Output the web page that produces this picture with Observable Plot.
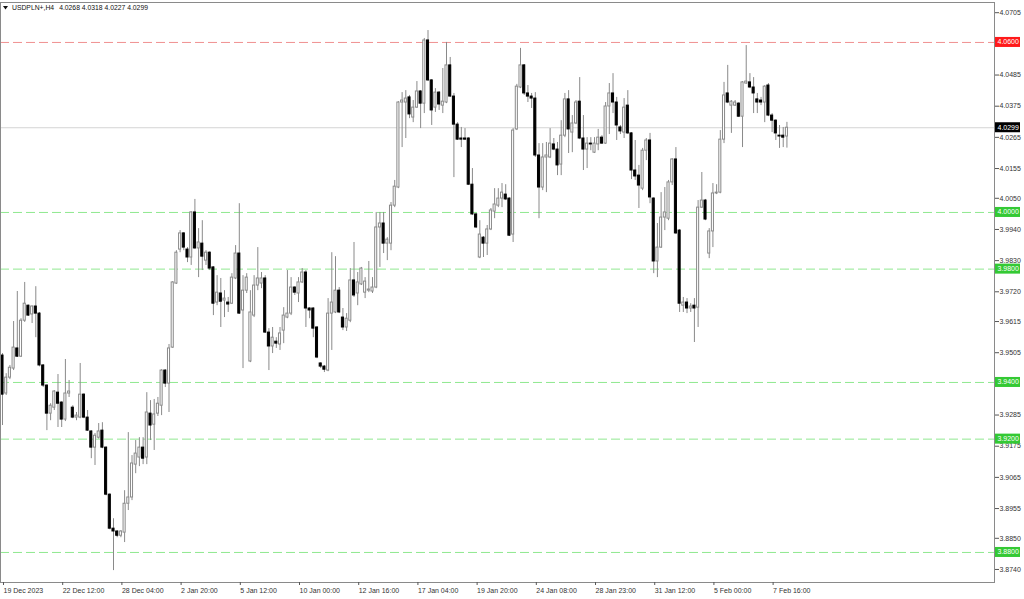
<!DOCTYPE html>
<html><head><meta charset="utf-8">
<script src="https://cdn.jsdelivr.net/npm/d3@7"></script>
<script src="https://cdn.jsdelivr.net/npm/@observablehq/plot@0.6"></script>
<style>html,body{margin:0;padding:0;background:#fff;} #chart svg{display:block}</style>
</head><body><div id="chart"></div>
<script>
const symbol = "USDPLN+,H4";

const open = [
3.9495,3.9361,3.9417,3.9449,3.9520,3.9491,3.9618,3.9671,3.9640,3.9668,
3.9643,3.9460,3.9389,3.9290,3.9311,3.9364,3.9329,3.9269,3.9361,3.9311,
3.9276,3.9276,3.9357,3.9276,3.9227,3.9170,3.9205,3.9230,3.9170,3.9004,
3.8884,3.8874,3.8859,3.8870,3.8972,3.8994,3.9110,3.9135,3.9170,3.9135,
3.9290,3.9251,3.9290,3.9318,3.9442,3.9396,3.9523,3.9749,3.9869,3.9926,
3.9869,3.9841,4.0000,3.9873,3.9890,3.9830,3.9858,3.9806,3.9682,3.9714,
3.9689,3.9682,3.9678,3.9767,3.9855,3.9654,3.9724,3.9474,3.9636,3.9742,
3.9749,3.9767,3.9576,3.9527,3.9544,3.9534,3.9583,3.9629,3.9643,3.9735,
3.9714,3.9753,3.9788,3.9661,3.9661,3.9594,3.9467,3.9456,3.9442,3.9643,
3.9647,3.9724,3.9629,3.9594,3.9618,3.9760,3.9714,3.9746,3.9717,3.9724,
3.9721,3.9735,3.9947,3.9961,3.9890,3.9890,4.0024,4.0088,4.0388,4.0388,
4.0406,4.0335,4.0370,4.0427,4.0384,4.0607,4.0466,4.0370,4.0423,4.0377,
4.0388,4.0519,4.0409,4.0310,4.0261,4.0261,4.0261,4.0098,3.9993,3.9841,
3.9911,3.9890,3.9940,4.0003,4.0024,4.0049,4.0063,4.0049,3.9922,4.0293,
4.0441,4.0519,4.0420,4.0409,4.0402,4.0201,4.0088,4.0194,4.0194,4.0240,
4.0222,4.0169,4.0271,4.0399,4.0282,4.0314,4.0391,4.0261,4.0222,4.0243,
4.0211,4.0240,4.0264,4.0243,4.0374,4.0420,4.0388,4.0300,4.0282,4.0377,
4.0279,4.0148,4.0130,4.0084,4.0218,4.0254,4.0049,3.9827,3.9876,3.9982,
3.9978,4.0106,4.0187,3.9936,3.9671,3.9682,3.9661,3.9671,3.9664,4.0017,
4.0042,3.9855,3.9933,4.0067,4.0070,4.0257,4.0420,4.0377,4.0377,4.0384,
4.0338,4.0455,4.0459,4.0441,4.0399,4.0395,4.0388,4.0448,4.0342,4.0324,
4.0271,4.0271,4.0268
];
const high = [
3.9502,3.9431,3.9460,3.9615,3.9721,3.9625,3.9753,3.9673,3.9670,3.9738,
3.9647,3.9463,3.9392,3.9325,3.9371,3.9428,3.9332,3.9481,3.9407,3.9318,
3.9294,3.9467,3.9360,3.9301,3.9230,3.9220,3.9255,3.9258,3.9173,3.9007,
3.8919,3.8877,3.8877,3.9018,3.9223,3.9142,3.9195,3.9205,3.9205,3.9364,
3.9336,3.9340,3.9347,3.9445,3.9445,3.9534,3.9756,3.9865,3.9936,3.9929,
3.9876,4.0003,4.0046,3.9943,3.9971,3.9865,3.9861,3.9809,3.9777,3.9767,
3.9724,3.9700,3.9784,3.9883,4.0031,3.9777,3.9784,3.9724,3.9777,3.9876,
3.9788,3.9777,3.9590,3.9594,3.9558,3.9594,3.9664,3.9795,3.9770,3.9738,
3.9770,3.9802,3.9795,3.9664,3.9664,3.9597,3.9470,3.9460,3.9696,3.9858,
3.9844,3.9735,3.9661,3.9643,3.9802,3.9894,3.9788,3.9806,3.9770,3.9827,
3.9770,4.0000,4.0000,4.0000,3.9911,4.0035,4.0113,4.0391,4.0423,4.0430,
4.0413,4.0395,4.0462,4.0430,4.0614,4.0642,4.0469,4.0437,4.0427,4.0508,
4.0600,4.0547,4.0420,4.0317,4.0300,4.0296,4.0264,4.0155,3.9996,3.9971,
3.9915,3.9954,4.0014,4.0084,4.0084,4.0102,4.0098,4.0052,4.0296,4.0452,
4.0579,4.0522,4.0448,4.0420,4.0423,4.0243,4.0243,4.0247,4.0296,4.0261,
4.0247,4.0324,4.0420,4.0430,4.0342,4.0395,4.0476,4.0342,4.0264,4.0264,
4.0264,4.0293,4.0271,4.0388,4.0455,4.0490,4.0406,4.0307,4.0402,4.0430,
4.0282,4.0254,4.0166,4.0226,4.0261,4.0279,4.0052,3.9961,4.0070,4.0088,
4.0113,4.0190,4.0229,3.9940,3.9700,3.9696,3.9678,3.9696,4.0042,4.0141,
4.0046,3.9943,4.0102,4.0098,4.0289,4.0459,4.0519,4.0395,4.0395,4.0388,
4.0462,4.0589,4.0490,4.0476,4.0420,4.0406,4.0448,4.0455,4.0349,4.0327,
4.0307,4.0300,4.0318
];
const low = [
3.9248,3.9354,3.9410,3.9442,3.9488,3.9488,3.9612,3.9633,3.9608,3.9558,
3.9455,3.9382,3.9230,3.9265,3.9301,3.9241,3.9241,3.9262,3.9347,3.9272,
3.9265,3.9272,3.9272,3.9227,3.9131,3.9107,3.9200,3.9166,3.9000,3.8880,
3.8736,3.8852,3.8852,3.8835,3.8948,3.8983,3.9078,3.9103,3.9110,3.9110,
3.9195,3.9160,3.9280,3.9283,3.9382,3.9294,3.9520,3.9746,3.9858,3.9865,
3.9823,3.9813,3.9870,3.9770,3.9795,3.9813,3.9795,3.9636,3.9671,3.9594,
3.9629,3.9647,3.9675,3.9763,3.9640,3.9449,3.9714,3.9470,3.9629,3.9724,
3.9731,3.9573,3.9442,3.9502,3.9520,3.9513,3.9537,3.9625,3.9636,3.9707,
3.9682,3.9749,3.9594,3.9625,3.9558,3.9484,3.9449,3.9435,3.9438,3.9513,
3.9643,3.9643,3.9583,3.9580,3.9611,3.9700,3.9671,3.9742,3.9696,3.9717,
3.9714,3.9731,3.9806,3.9855,3.9830,3.9865,4.0017,4.0084,4.0229,4.0261,
4.0331,4.0317,4.0367,4.0296,4.0349,4.0462,4.0307,4.0353,4.0360,4.0349,
4.0384,4.0406,4.0123,4.0254,4.0229,4.0254,4.0095,3.9989,3.9943,3.9837,
3.9841,3.9848,3.9936,3.9978,4.0017,4.0017,4.0042,3.9915,3.9894,4.0289,
4.0437,4.0413,4.0388,4.0367,4.0194,3.9978,4.0077,4.0070,4.0190,4.0218,
4.0130,4.0130,4.0264,4.0208,4.0211,4.0310,4.0257,4.0148,4.0155,4.0218,
4.0208,4.0218,4.0240,4.0240,4.0275,4.0349,4.0254,4.0275,4.0261,4.0275,
4.0116,4.0113,4.0014,4.0077,4.0183,4.0031,3.9784,3.9770,3.9873,3.9936,
3.9971,4.0095,3.9922,3.9647,3.9647,3.9643,3.9647,3.9541,3.9594,4.0014,
3.9971,3.9837,3.9876,4.0063,4.0066,4.0243,4.0384,4.0279,4.0374,4.0335,
4.0229,4.0452,4.0437,4.0349,4.0349,4.0377,4.0317,4.0338,4.0282,4.0254,
4.0226,4.0229,4.0227
];
const close = [
3.9357,3.9417,3.9452,3.9523,3.9491,3.9618,3.9678,3.9636,3.9668,3.9643,
3.9460,3.9389,3.9290,3.9318,3.9368,3.9325,3.9269,3.9361,3.9368,3.9276,
3.9283,3.9357,3.9276,3.9230,3.9170,3.9212,3.9227,3.9170,3.9004,3.8884,
3.8874,3.8859,3.8874,3.8972,3.8994,3.9114,3.9149,3.9170,3.9131,3.9294,
3.9248,3.9287,3.9325,3.9442,3.9396,3.9520,3.9753,3.9858,3.9926,3.9876,
3.9841,4.0000,3.9873,3.9894,3.9844,3.9858,3.9802,3.9678,3.9717,3.9685,
3.9696,3.9675,3.9770,3.9855,3.9643,3.9724,3.9770,3.9647,3.9742,3.9767,
3.9767,3.9576,3.9527,3.9558,3.9537,3.9573,3.9636,3.9643,3.9735,3.9717,
3.9753,3.9788,3.9661,3.9654,3.9590,3.9488,3.9456,3.9445,3.9643,3.9682,
3.9724,3.9647,3.9594,3.9625,3.9760,3.9707,3.9753,3.9802,3.9756,3.9728,
3.9735,3.9947,3.9961,3.9890,3.9904,4.0024,4.0091,4.0388,4.0395,4.0402,
4.0346,4.0370,4.0427,4.0384,4.0607,4.0466,4.0360,4.0423,4.0381,4.0391,
4.0519,4.0409,4.0310,4.0257,4.0257,4.0257,4.0098,3.9993,3.9947,3.9922,
3.9890,3.9940,4.0007,4.0028,4.0049,4.0070,4.0046,3.9918,4.0289,4.0444,
4.0519,4.0420,4.0409,4.0402,4.0201,4.0088,4.0194,4.0201,4.0243,4.0222,
4.0166,4.0271,4.0399,4.0293,4.0314,4.0388,4.0261,4.0222,4.0243,4.0240,
4.0243,4.0264,4.0243,4.0374,4.0420,4.0388,4.0307,4.0286,4.0370,4.0279,
4.0148,4.0127,4.0095,4.0218,4.0254,4.0053,3.9827,3.9876,3.9982,4.0000,
4.0106,4.0187,3.9926,3.9678,3.9682,3.9661,3.9668,3.9661,4.0017,4.0042,
3.9975,3.9933,4.0067,4.0070,4.0257,4.0413,4.0388,4.0391,4.0388,4.0338,
4.0459,4.0462,4.0441,4.0420,4.0388,4.0388,4.0444,4.0342,4.0324,4.0279,
4.0268,4.0264,4.0299
];

const dateTickIndex = [0,16,32,48,64,80,96,112,128,144,160,176,192,208];
const dateTickLabels = ["19 Dec 2023","22 Dec 12:00","28 Dec 04:00","2 Jan 20:00","5 Jan 12:00","10 Jan 00:00","12 Jan 16:00","17 Jan 04:00","19 Jan 20:00","24 Jan 08:00","28 Jan 23:00","31 Jan 12:00","5 Feb 00:00","7 Feb 16:00"];
const priceTicks = [4.0705,4.0485,4.0375,4.0265,4.0155,4.0050,3.9940,3.9830,3.9720,3.9615,3.9505,3.9285,3.9175,3.9065,3.8955,3.8850,3.8740];
const resistanceLevels = [4.0600];
const supportLevels = [4.0000,3.9800,3.9400,3.9200,3.8800];

const n = Math.min(open.length, high.length, low.length, close.length);
const candles = d3.range(n).map(i => ({i, o: open[i], h: high[i], l: low[i], c: close[i], up: close[i] >= open[i]}));
const last = candles[n - 1];

const FONT = "'Liberation Sans', Arial, sans-serif";
const half = 0.28;

const plot = Plot.plot({
  width: 1024, height: 599,
  marginTop: 2, marginBottom: 17, marginLeft: 0, marginRight: 30,
  x: {type: "linear", domain: [-0.54, 268.1], label: null},
  y: {type: "linear", domain: [3.8694, 4.0741], label: null},
  style: {fontFamily: FONT, fontSize: "7px", color: "#222", background: "#fff", overflow: "visible"},
  marks: [
    Plot.ruleY(supportLevels, {y: d => d, stroke: "#90e890", strokeDasharray: "9,4"}),
    Plot.ruleY(resistanceLevels, {y: d => d, stroke: "#f09090", strokeDasharray: "9,4"}),
    Plot.ruleY([last.c], {y: d => d, stroke: "#d4d4d4"}),
    Plot.ruleX(candles, {x: "i", y1: "l", y2: "h", stroke: "#8a8a8a", strokeWidth: 1}),
    Plot.rect(candles.filter(d => d.up), {x1: d => d.i - half, x2: d => d.i + half, y1: "o", y2: "c", fill: "#fff", stroke: "#8a8a8a", strokeWidth: 1}),
    Plot.rect(candles.filter(d => !d.up), {x1: d => d.i - half, x2: d => d.i + half, y1: "o", y2: "c", fill: "#000", stroke: "#000", strokeWidth: 1}),
    Plot.frame({stroke: "#8a8a8a"}),
    Plot.axisY(priceTicks, {anchor: "right", tickSize: 4, tickPadding: 1, tickFormat: d => d.toFixed(4), stroke: "#555", fill: "#333", label: null}),
    Plot.axisX(dateTickIndex, {anchor: "bottom", tickSize: 3, tickPadding: 3, textAnchor: "start", dx: 1, stroke: "#555", fill: "#333", tickFormat: d => dateTickLabels[dateTickIndex.indexOf(d)], label: null})
  ]
});

document.getElementById("chart").appendChild(plot);

const svg = d3.select(plot);
const ys = plot.scale("y");
const xs = plot.scale("x");
const axisX0 = xs.range[1] + 1;
const g = svg.append("g").attr("font-family", FONT).attr("font-size", 7).attr("text-anchor", "start");

function tag(v, color) {
  const yy = ys.apply(v);
  g.append("rect").attr("x", axisX0).attr("y", yy - 5).attr("width", 25).attr("height", 10).attr("fill", color);
  g.append("text").attr("x", axisX0 + 2.5).attr("y", yy).attr("dy", "0.35em").attr("fill", "#fff").text(v.toFixed(4));
}
resistanceLevels.forEach(v => tag(v, "#ff1a1a"));
supportLevels.forEach(v => tag(v, "#34c934"));
tag(last.c, "#000");

// header
const hdr = svg.append("g").attr("font-family", FONT).attr("font-size", 6.8).attr("fill", "#111").attr("text-anchor", "start");
hdr.append("path").attr("d", "M3,6 L8,6 L5.5,9.5 Z").attr("fill", "#111");
const ht = hdr.append("text").attr("x", 12).attr("y", 8).attr("dy", "0.35em");
ht.append("tspan").text(symbol);
ht.append("tspan").attr("dx", 5).text([last.o, last.h, last.l, last.c].map(v => v.toFixed(4)).join(" "));
</script>
</body></html>
